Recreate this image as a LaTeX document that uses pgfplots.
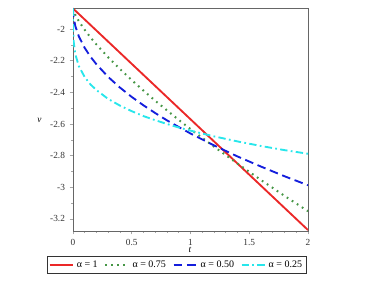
\documentclass[border=0pt]{standalone}
\usepackage{fontspec}
\setmainfont{Liberation Serif}
\usepackage{pgfplots}
\pgfplotsset{compat=1.18}
\definecolor{mred}{RGB}{235,40,40}
\definecolor{mgreen}{RGB}{70,150,70}
\definecolor{mblue}{RGB}{20,30,220}
\definecolor{mcyan}{RGB}{40,230,235}
\begin{document}
\begin{tikzpicture}
\path (0,0) rectangle (286.5pt,213.75pt);
\begin{axis}[
  at={(54.75pt,40.5pt)}, anchor=south west,
  scale only axis, width=176.25pt, height=167.25pt,
  xmin=0, xmax=2, ymin=-3.276, ymax=-1.867,
  xtick={0,0.5,1,1.5,2}, xticklabels={0,0.5,1,1.5,2},
  ytick={-3.2,-3,-2.8,-2.6,-2.4,-2.2,-2},
  yticklabels={-3.2,-3,-2.8,-2.6,-2.4,-2.2,-2},
  minor xtick={0.1,0.2,0.3,0.4,0.6,0.7,0.8,0.9,1.1,1.2,1.3,1.4,1.6,1.7,1.8,1.9},
  minor ytick={-3.1,-2.9,-2.7,-2.5,-2.3,-2.1},
  tick align=outside, tick pos=left,
  major tick length=2.5pt, minor tick length=1.5pt,
  every tick/.style={gray!70, line width=0.4pt},
  axis line style={gray!80!black, line width=0.6pt},
  tick label style={font=\fontsize{7}{8}\selectfont, text=black!80},
  xlabel={\textit{t}}, ylabel={\textit{v}},
  label style={font=\fontsize{7}{8}\selectfont},
  xlabel style={at={(rel axis cs:0.498,0)}, anchor=north, yshift=-9pt},
  ylabel style={at={(rel axis cs:0,0.498)}, rotate=-90, anchor=east, xshift=-20pt},
  legend columns=4,
  legend style={at={(rel axis cs:-0.1106,-0.112)}, anchor=north west,
    font=\fontsize{7.5}{9}\selectfont, draw=black!80, line width=0.6pt,
    inner xsep=1pt, inner ysep=1pt,
    /tikz/every even column/.append style={column sep=3pt}},
  legend image code/.code={\draw[#1] (0cm,0cm) -- (0.62cm,0cm);},
]
\addplot[mred, line width=1.4pt] coordinates {(0,-1.87) (2,-3.27)};
\addlegendentry{α = 1}
\addplot[mgreen, line width=1.5pt, dash pattern=on 1.3pt off 3.2pt] coordinates {
(0,-1.87) (0.005,-1.884) (0.02,-1.911) (0.05,-1.951) (0.1,-2.005) (0.15,-2.054)
(0.2,-2.098) (0.3,-2.179) (0.4,-2.253) (0.5,-2.323) (0.6,-2.389) (0.7,-2.453)
(0.8,-2.514) (0.9,-2.574) (1.0,-2.632) (1.2,-2.743) (1.4,-2.850) (1.6,-2.954)
(1.8,-3.054) (2.0,-3.151)};
\addlegendentry{α = 0.75}
\addplot[mblue, line width=1.4pt, dash pattern=on 6.5pt off 3.5pt] coordinates {
(0,-1.87) (0.001,-1.895) (0.005,-1.926) (0.02,-1.982) (0.05,-2.047) (0.1,-2.120)
(0.15,-2.176) (0.2,-2.223) (0.3,-2.303) (0.4,-2.370) (0.5,-2.429) (0.6,-2.482)
(0.7,-2.531) (0.8,-2.577) (0.9,-2.619) (1.0,-2.660) (1.2,-2.735) (1.4,-2.805)
(1.6,-2.869) (1.8,-2.930) (2.0,-2.987)};
\addlegendentry{α = 0.50}
\addplot[mcyan, line width=1.4pt, dash pattern=on 5.5pt off 2.5pt on 1.3pt off 2.5pt] coordinates {
(0,-1.87) (0.0001,-1.947) (0.001,-2.007) (0.005,-2.075) (0.02,-2.160) (0.05,-2.235)
(0.1,-2.304) (0.15,-2.351) (0.2,-2.386) (0.3,-2.442) (0.4,-2.484) (0.5,-2.519)
(0.6,-2.550) (0.7,-2.576) (0.8,-2.600) (0.9,-2.622) (1.0,-2.642) (1.2,-2.678)
(1.4,-2.710) (1.6,-2.739) (1.8,-2.765) (2.0,-2.788)};
\addlegendentry{α = 0.25}
\end{axis}
\end{tikzpicture}
\end{document}
